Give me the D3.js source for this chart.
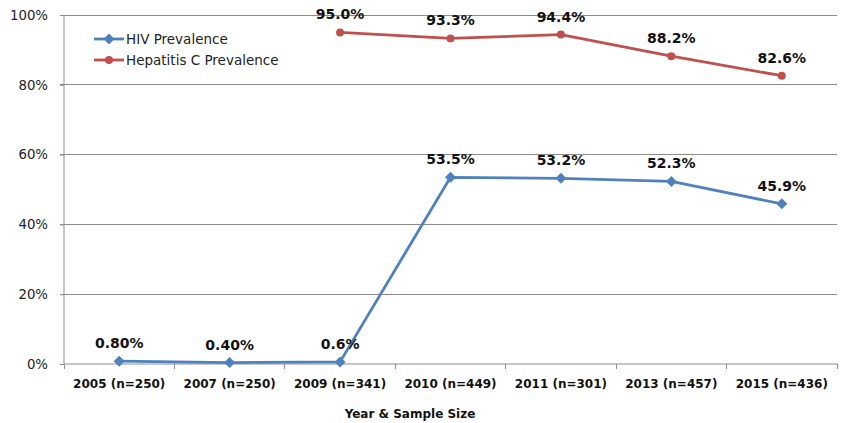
<!DOCTYPE html>
<html><head><meta charset="utf-8">
<script src="https://cdn.jsdelivr.net/npm/d3@7"></script>
<style>body{margin:0;background:#fff}svg{display:block}</style>
</head><body>
<svg id="c" width="841" height="423"></svg>
<script>
const categories = ["2005 (n=250)","2007 (n=250)","2009 (n=341)","2010 (n=449)","2011 (n=301)","2013 (n=457)","2015 (n=436)"];
const hivValues = [0.8, 0.4, 0.6, 53.5, 53.2, 52.3, 45.9];
const hivLabels = ["0.80%","0.40%","0.6%","53.5%","53.2%","52.3%","45.9%"];
const hcvValues = [null, null, 95.0, 93.3, 94.4, 88.2, 82.6];
const hcvLabels = [null, null, "95.0%","93.3%","94.4%","88.2%","82.6%"];
const yTicks = [0, 20, 40, 60, 80, 100];
const seriesNames = ["HIV Prevalence", "Hepatitis C Prevalence"];

(function(){
const svg = d3.select("#c");
const pLeft = 64, pRight = 837, pTop = 15, pBottom = 364;
const x = d3.scaleBand().domain(categories).range([pLeft, pRight]);
const y = d3.scaleLinear().domain([0, 100]).range([pBottom, pTop]);
const grid = "#8c8c8c";
const font = "'DejaVu Sans', Verdana, sans-serif";

svg.append("g").selectAll("line").data(yTicks.filter(d => d > 0)).join("line")
  .attr("x1", pLeft - 4).attr("x2", pRight).attr("y1", d => y(d)).attr("y2", d => y(d))
  .attr("stroke", grid).attr("stroke-width", 1).attr("shape-rendering", "crispEdges");

const yAxis = svg.append("g").attr("transform", `translate(${pLeft},0)`)
  .call(d3.axisLeft(y).tickValues(yTicks).tickFormat(d => d + "%").tickSize(4).tickPadding(12));
yAxis.select(".domain").attr("stroke", grid).attr("d", `M-0,${pTop}V${pBottom}`);
yAxis.selectAll(".tick line").attr("stroke", grid);
yAxis.selectAll("text").attr("font-family", font).attr("font-size", 13.3).attr("fill", "#222");

const xAxis = svg.append("g").attr("transform", `translate(0,${pBottom})`)
  .call(d3.axisBottom(x).tickSize(0).tickPadding(0));
xAxis.select(".domain").attr("stroke", grid).attr("d", `M${pLeft},0H${pRight}`);
xAxis.selectAll("text").attr("dy", null).attr("y", 24).attr("font-family", font)
  .attr("font-weight", "bold").attr("font-size", 12).attr("fill", "#111");
const bounds = categories.map(c => x(c)).concat([pRight]);
xAxis.append("g").selectAll("line").data(bounds).join("line")
  .attr("x1", d => d).attr("x2", d => d).attr("y1", 0).attr("y2", 5)
  .attr("stroke", grid).attr("shape-rendering", "crispEdges");

svg.append("text").attr("x", 410).attr("y", 418).attr("text-anchor", "middle")
  .attr("font-family", font).attr("font-weight", "bold")
  .attr("font-size", 12).attr("fill", "#111").text("Year & Sample Size");

const cx = c => x(c) + x.bandwidth() / 2;
const blue = "#4F81BD", red = "#C0504D";
const diamond = "M0,-5.5L5.5,0L0,5.5L-5.5,0Z";
const circle = d3.symbol().type(d3.symbolCircle).size(50)();

function drawSeries(vals, labels, color, shapePath) {
  const pts = categories.map((c, i) => ({c, v: vals[i], l: labels[i]})).filter(d => d.v != null);
  const line = d3.line().x(d => cx(d.c)).y(d => y(d.v));
  svg.append("path").datum(pts).attr("d", line).attr("fill", "none")
    .attr("stroke", color).attr("stroke-width", 2.8).attr("stroke-linejoin", "round");
  svg.append("g").selectAll("path").data(pts).join("path")
    .attr("transform", d => `translate(${cx(d.c)},${y(d.v)})`)
    .attr("d", shapePath).attr("fill", color);
  svg.append("g").selectAll("text").data(pts).join("text")
    .attr("x", d => cx(d.c)).attr("y", d => y(d.v) - 13).attr("text-anchor", "middle")
    .attr("font-family", font).attr("font-weight", "bold").attr("font-size", 14).attr("fill", "#111")
    .text(d => d.l);
}
drawSeries(hivValues, hivLabels, blue, diamond);
drawSeries(hcvValues, hcvLabels, red, circle);

const leg = svg.append("g");
[[seriesNames[0], blue, diamond, 39], [seriesNames[1], red, circle, 60]].forEach(([n, col, sh, ly]) => {
  leg.append("line").attr("x1", 94).attr("x2", 124).attr("y1", ly).attr("y2", ly)
    .attr("stroke", col).attr("stroke-width", 2.8);
  leg.append("path").attr("transform", `translate(109,${ly})`).attr("d", sh).attr("fill", col);
  leg.append("text").attr("x", 126).attr("y", ly + 5).attr("font-family", font)
    .attr("font-size", 13.5).attr("fill", "#222").text(n);
});
})();
</script>
</body></html>
